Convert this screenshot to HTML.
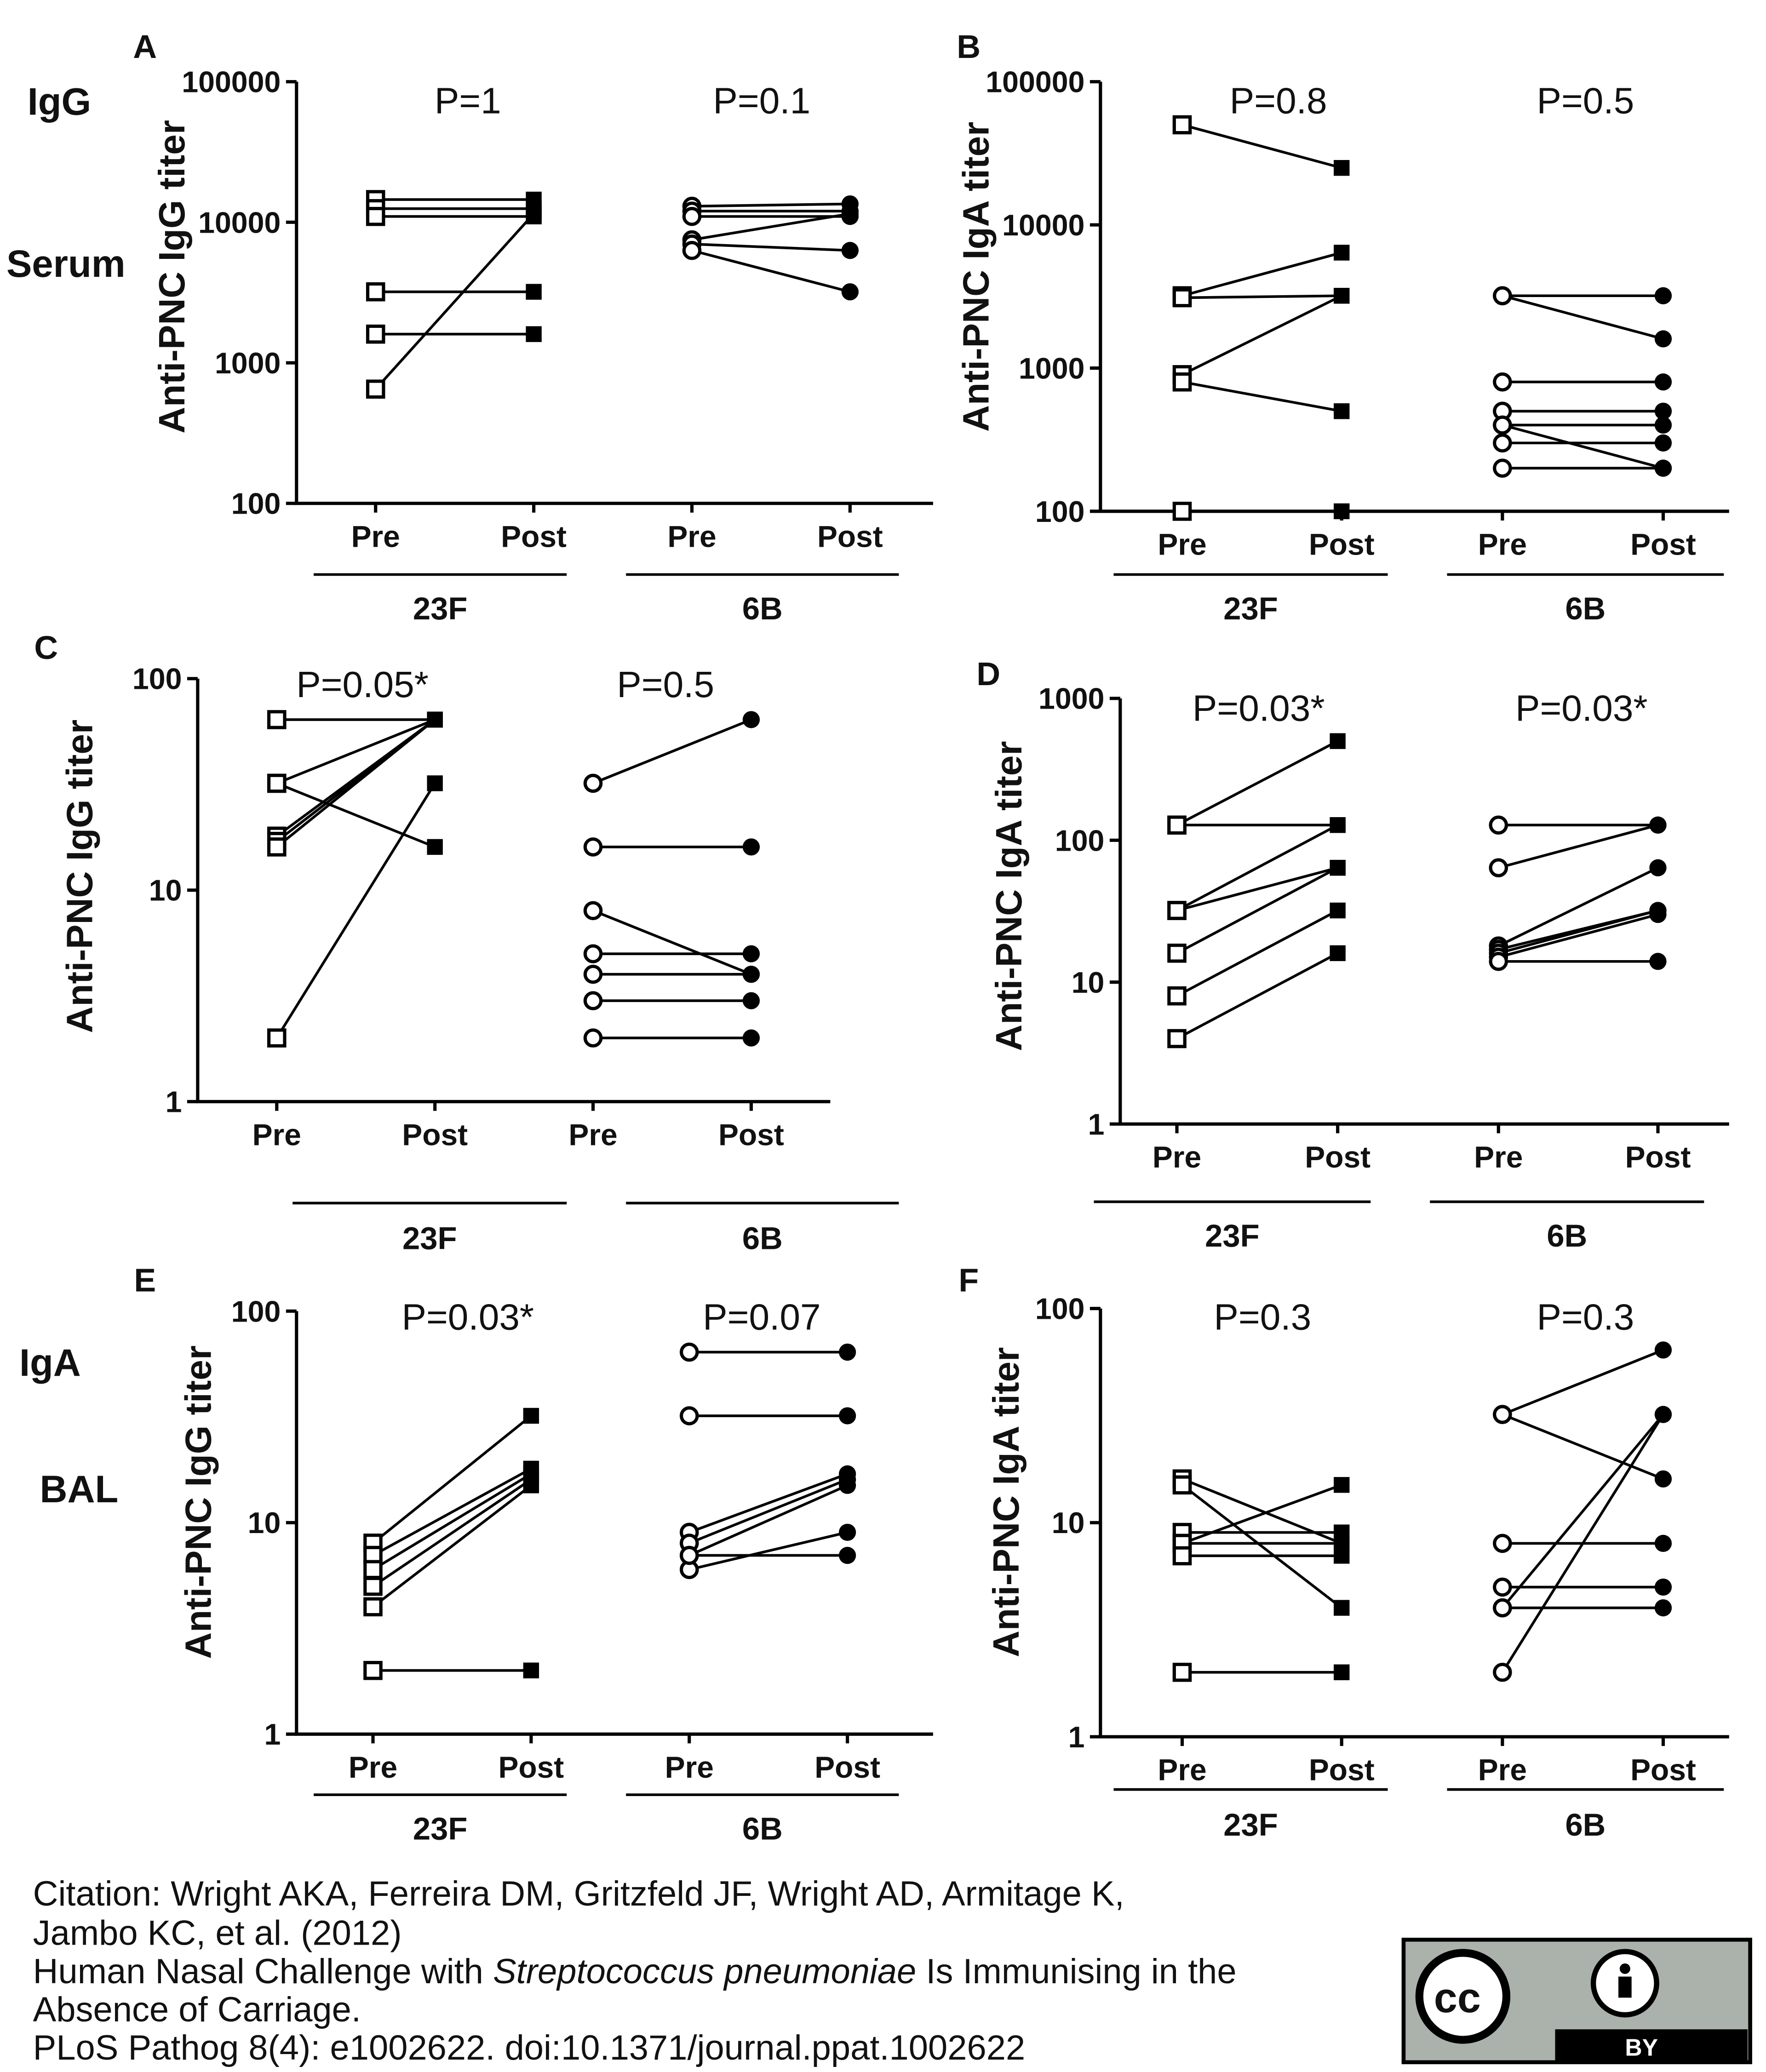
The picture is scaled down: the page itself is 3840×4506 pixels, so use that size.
<!DOCTYPE html>
<html><head><meta charset="utf-8"><style>
html,body{margin:0;padding:0;background:#fff}
svg{display:block}
text{font-family:"Liberation Sans",Arial,sans-serif;fill:#111}
</style></head><body>
<svg id="fig" width="3840" height="4506" viewBox="0 0 1340 1572.4" xmlns="http://www.w3.org/2000/svg">
<rect width="1340" height="1573" fill="#fff"/>
<g id="root"></g>
<g font-size="26.5">
<text x="25" y="1446">Citation: Wright AKA, Ferreira DM, Gritzfeld JF, Wright AD, Armitage K,</text>
<text x="25" y="1476">Jambo KC, et al. (2012)</text>
<text x="25" y="1505">Human Nasal Challenge with <tspan font-style="italic">Streptococcus pneumoniae</tspan> Is Immunising in the</text>
<text x="25" y="1534">Absence of Carriage.</text>
<text x="25" y="1563">PLoS Pathog 8(4): e1002622. doi:10.1371/journal.ppat.1002622</text>
</g>
<g>
<rect x="1065" y="1472" width="263" height="93" fill="#aab2ab" stroke="#000" stroke-width="3"/>
<rect x="1180" y="1540" width="146" height="24" fill="#000"/>
<text x="1233" y="1560" font-size="18" font-weight="bold" style="fill:#fff">BY</text>
<circle cx="1110" cy="1515" r="33" fill="#fff" stroke="#000" stroke-width="6"/>
<text x="1088" y="1527" font-size="32" font-weight="bold">cc</text>
<circle cx="1233" cy="1505" r="24" fill="#fff" stroke="#000" stroke-width="4"/>
<circle cx="1233" cy="1494" r="4" fill="#000"/>
<rect x="1228" y="1500" width="10" height="16" fill="#000"/>
</g>
</svg>
<script>
// Panel data (pre -> post pairs)
const categories = ["Pre","Post","Pre","Post"];
const groupLabels = ["23F","6B"];
const aPre23 = [14500,12500,11000,3200,1600,650];
const aPost23 = [14500,12500,11000,3200,1600,11500];
const aPre6 = [13000,12000,11000,7500,7000,6300];
const aPost6 = [13500,12000,11000,11500,6300,3200];
const bPre23 = [50000,3200,3100,900,800,100];
const bPost23 = [25000,6400,3200,3200,500,100];
const bPre6 = [3200,3200,800,500,400,300,400,200];
const bPost6 = [3200,1600,800,500,400,300,200,200];
const cPre23 = [64,32,32,18,17,16,2];
const cPost23 = [64,64,16,64,64,64,32];
const cPre6 = [32,16,8,5,4,3,2];
const cPost6 = [64,16,4,5,4,3,2];
const dPre23 = [128,128,32,32,16,8,4];
const dPost23 = [500,128,128,64,64,32,16];
const dPre6 = [128,64,18,17,16,15,14];
const dPost6 = [128,128,64,32,32,30,14];
const ePre23 = [8,7,6,5,4,2];
const ePost23 = [32,18,17,16,15,2];
const ePre6 = [64,32,9,8,7,6,7];
const ePost6 = [64,32,17,16,15,9,7];
const fPre23 = [16,15,9,8,8,7,2];
const fPost23 = [8,4,9,15,8,7,2];
const fPre6 = [32,32,8,5,4,4,2];
const fPost6 = [64,16,8,5,4,32,32];
const pLabels = [["P=1","P=0.1"],["P=0.8","P=0.5"],["P=0.05*","P=0.5"],["P=0.03*","P=0.03*"],["P=0.03*","P=0.07"],["P=0.3","P=0.3"]];
const tickA = ["100","1000","10000","100000"];
const tickC = ["1","10","100"];
const tickD = ["1","10","100","1000"];

const NS="http://www.w3.org/2000/svg";
const root=document.getElementById('root');
function mk(tag,attrs,parent,txt){const e=document.createElementNS(NS,tag);for(const k in attrs)e.setAttribute(k,attrs[k]);if(txt!==undefined)e.textContent=txt;(parent||root).appendChild(e);return e;}

const panels=[
 {id:'a',letter:'A',lx:110,ly:44,ax:225,x2:708,yTop:62,yBot:382,lo:100,ticks:tickA,xs:[285,405,525,645],ul:[[238,430],[475,682]],ulY:436,glY:470,pY:86,pX:[355,578],title:"Anti-PNC IgG titer",tx:130,ty:210,d:[aPre23,aPost23,aPre6,aPost6],p:pLabels[0]},
 {id:'b',letter:'B',lx:735,ly:44,ax:835,x2:1312,yTop:62,yBot:388,lo:100,ticks:tickA,xs:[897,1018,1140,1262],ul:[[845,1053],[1098,1308]],ulY:436,glY:470,pY:86,pX:[970,1203],title:"Anti-PNC IgA titer",tx:740,ty:210,d:[bPre23,bPost23,bPre6,bPost6],p:pLabels[1]},
 {id:'c',letter:'C',lx:35,ly:500,ax:150,x2:630,yTop:515,yBot:836,lo:1,ticks:tickC,xs:[210,330,450,570],ul:[[222,430],[475,682]],ulY:913,glY:948,pY:529,pX:[275,505],title:"Anti-PNC IgG titer",tx:60,ty:665,d:[cPre23,cPost23,cPre6,cPost6],p:pLabels[2]},
 {id:'d',letter:'D',lx:750,ly:520,ax:850,x2:1312,yTop:530,yBot:853,lo:1,ticks:tickD,xs:[893,1015,1137,1258],ul:[[830,1040],[1085,1293]],ulY:912,glY:946,pY:547,pX:[955,1200],title:"Anti-PNC IgA titer",tx:765,ty:680,d:[dPre23,dPost23,dPre6,dPost6],p:pLabels[3]},
 {id:'e',letter:'E',lx:110,ly:980,ax:225,x2:708,yTop:995,yBot:1316,lo:1,ticks:tickC,xs:[283,403,523,643],ul:[[238,430],[475,682]],ulY:1362,glY:1396,pY:1009,pX:[355,578],title:"Anti-PNC IgG titer",tx:150,ty:1140,d:[ePre23,ePost23,ePre6,ePost6],p:pLabels[4]},
 {id:'f',letter:'F',lx:735,ly:980,ax:835,x2:1312,yTop:993,yBot:1318,lo:1,ticks:tickC,xs:[897,1018,1140,1262],ul:[[845,1053],[1098,1308]],ulY:1358,glY:1393,pY:1009,pX:[958,1203],title:"Anti-PNC IgA titer",tx:763,ty:1140,d:[fPre23,fPost23,fPre6,fPost6],p:pLabels[5]}
];

panels.forEach(P=>{
 const g=mk('g',{});
 
 
 const nDec=P.ticks.length-1;
 const y=v=>P.yBot-(Math.log10(v/P.lo))/nDec*(P.yBot-P.yTop);
 const lt=mk('text',{x:P.lx,y:P.ly,'font-size':25,'font-weight':'bold','text-anchor':'middle'},g,P.letter);
 
 
 const axis=mk('path',{d:`M${P.ax},${P.yTop}V${P.yBot}H${P.x2}`,fill:'none',stroke:'#000','stroke-width':2.5},g);
 
 
 P.ticks.forEach((t,i)=>{
  const v=P.lo*Math.pow(10,i),yy=y(v);
  mk('line',{x1:P.ax-8,x2:P.ax,y1:yy,y2:yy,stroke:'#000','stroke-width':2.5},g);
  const tl=mk('text',{x:P.ax-12,y:yy+8,'font-size':22.5,'font-weight':'bold','text-anchor':'end'},g,t);
  
  
 });
 const tt=mk('text',{x:0,y:0,'font-size':28,'font-weight':'bold','text-anchor':'middle',transform:`translate(${P.tx+10},${P.ty}) rotate(-90)`},g,P.title);
 
 
 P.xs.forEach((x,i)=>{
  mk('line',{x1:x,x2:x,y1:P.yBot,y2:P.yBot+7,stroke:'#000','stroke-width':2.5},g);
  const xl=mk('text',{x:x,y:P.yBot+33,'font-size':23,'font-weight':'bold','text-anchor':'middle'},g,categories[i]);
  
  
 });
 P.ul.forEach((u,i)=>{
  mk('line',{x1:u[0],x2:u[1],y1:P.ulY,y2:P.ulY,stroke:'#000','stroke-width':2},g);
  const gl=mk('text',{x:(u[0]+u[1])/2,y:P.glY,'font-size':24,'font-weight':'bold','text-anchor':'middle'},g,groupLabels[i]);
  
  
  const pl=mk('text',{x:P.pX[i],y:P.pY,'font-size':28,'text-anchor':'middle'},g,P.p[i]);
  
  
 });
 for(let s=0;s<2;s++){
  const pre=P.d[s*2],post=P.d[s*2+1],x0=P.xs[s*2],x1=P.xs[s*2+1];
  pre.forEach((v,i)=>{
   const ln=mk('line',{x1:x0,y1:y(v),x2:x1,y2:y(post[i]),stroke:'#000','stroke-width':2},g);
   
   
  });
  pre.forEach((v,i)=>{
   const m = s===0 ? mk('rect',{x:x0-6,y:y(v)-6,width:12,height:12,fill:'#fff',stroke:'#000','stroke-width':2.5},g)
                   : mk('circle',{cx:x0,cy:y(v),r:6,fill:'#fff',stroke:'#000','stroke-width':2.5},g);
   
   
  });
  post.forEach((v,i)=>{
   const m = s===0 ? mk('rect',{x:x1-6,y:y(v)-6,width:12,height:12,fill:'#000'},g)
                   : mk('circle',{cx:x1,cy:y(v),r:6.5,fill:'#000'},g);
   
   
  });
 }
});
[["IgG",45,87],["Serum",50,210],["IgA",38,1044],["BAL",60,1140]].forEach(r=>{
 const t=mk('text',{x:r[1],y:r[2],'font-size':29,'font-weight':'bold','text-anchor':'middle'},root,r[0]);
 
 
});
</script>
</body></html>
